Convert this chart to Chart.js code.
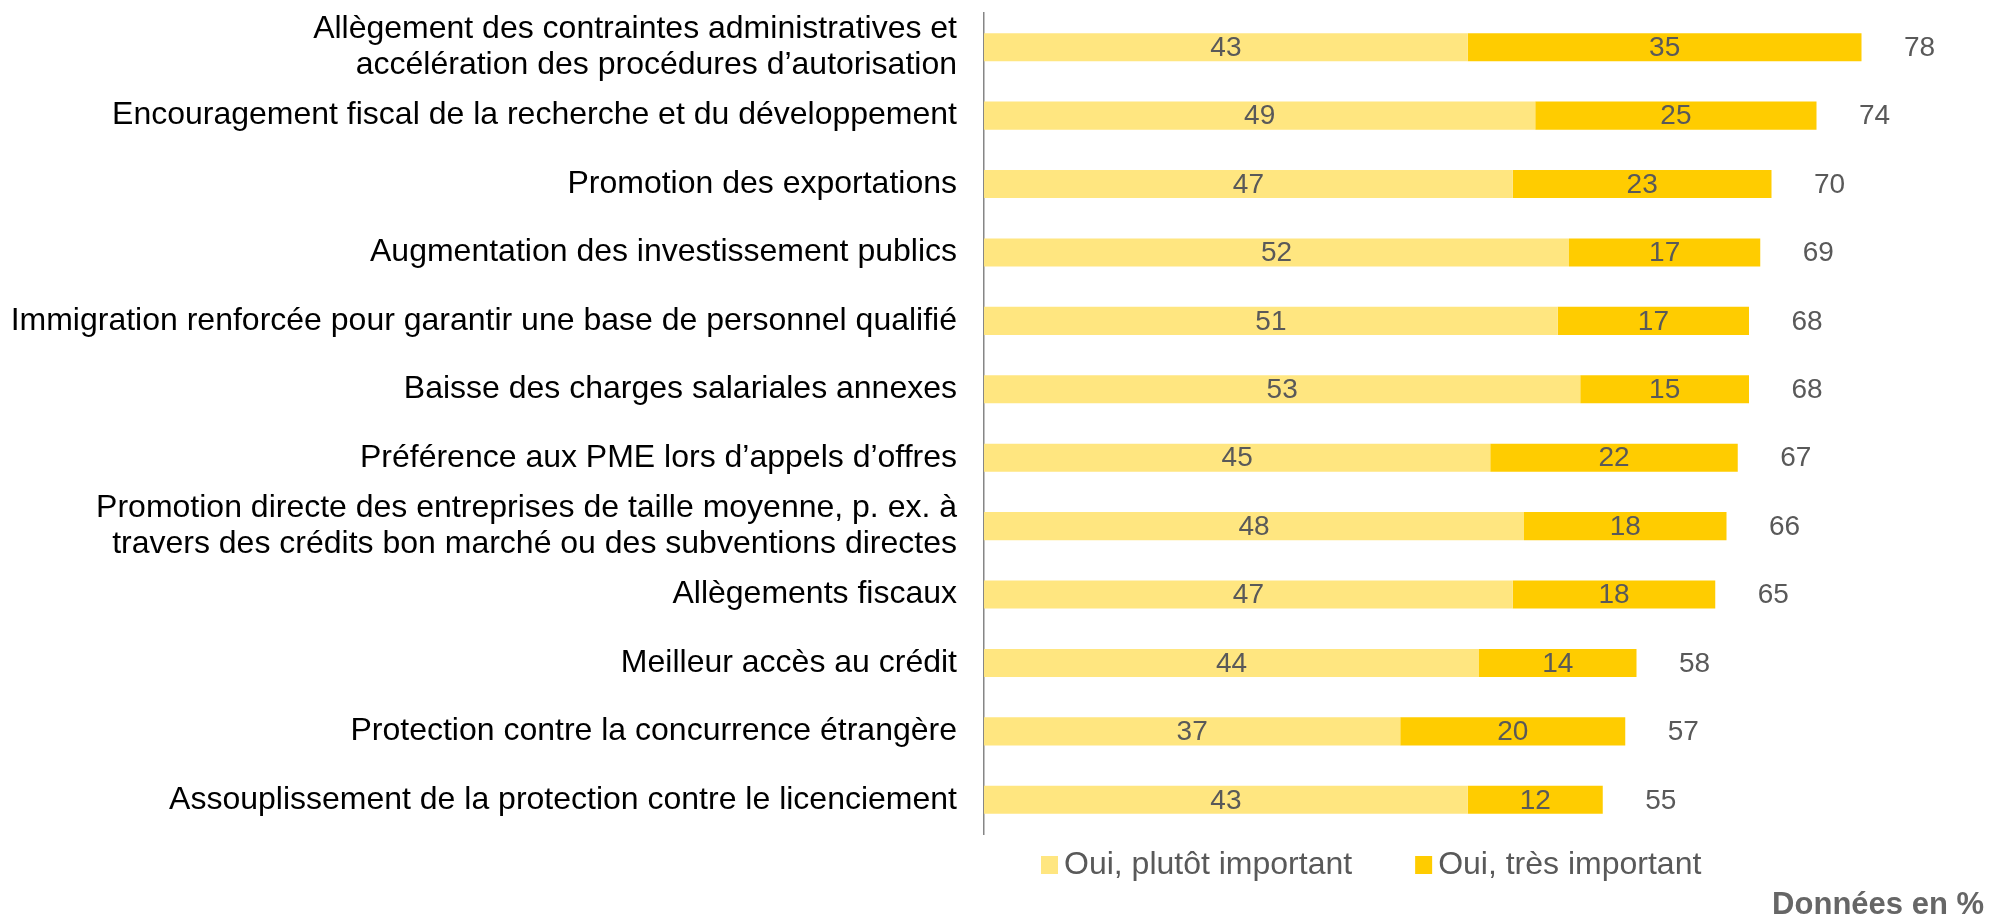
<!DOCTYPE html>
<html>
<head>
<meta charset="utf-8">
<script src="https://cdn.jsdelivr.net/npm/chart.js@4"></script>
<style>
  html, body { margin: 0; padding: 0; background: #fff; }
  #wrap { width: 1991px; height: 923px; position: relative; }
</style>
</head>
<body>
<div id="wrap"><canvas id="myChart"></canvas></div>
<script>
// categories (two-line ones as arrays)
var categories = [
  ['Allègement des contraintes administratives et', 'accélération des procédures d\u2019autorisation'],
  'Encouragement fiscal de la recherche et du développement',
  'Promotion des exportations',
  'Augmentation des investissement publics',
  'Immigration renforcée pour garantir une base de personnel qualifié',
  'Baisse des charges salariales annexes',
  'Préférence aux PME lors d\u2019appels d\u2019offres',
  ['Promotion directe des entreprises de taille moyenne, p. ex. à', 'travers des crédits bon marché ou des subventions directes'],
  'Allègements fiscaux',
  'Meilleur accès au crédit',
  'Protection contre la concurrence étrangère',
  'Assouplissement de la protection contre le licenciement'
];
var plutot = [43, 49, 47, 52, 51, 53, 45, 48, 47, 44, 37, 43];
var tres   = [35, 25, 23, 17, 17, 15, 22, 18, 18, 14, 20, 12];
var totals = [78, 74, 70, 69, 68, 68, 67, 66, 65, 58, 57, 55];
var seriesNames = ['Oui, plutôt important', 'Oui, très important'];
var unitNote = 'Données en %';

var FONT = '"Liberation Sans", Arial, sans-serif';
var GREY = '#595959';

// value labels inside bars + totals at bar end
var labelPlugin = {
  id: 'labelPlugin',
  afterDatasetsDraw: function(chart) {
    var ctx = chart.ctx;
    var xScale = chart.scales.x;
    ctx.save();
    ctx.font = '28px ' + FONT;
    ctx.fillStyle = GREY;
    ctx.textAlign = 'center';
    ctx.textBaseline = 'middle';
    chart.data.datasets.forEach(function(ds, di) {
      var meta = chart.getDatasetMeta(di);
      meta.data.forEach(function(bar, i) {
        ctx.fillText(ds.data[i], (bar.x + bar.base) / 2, bar.y + 1);
      });
    });
    var meta0 = chart.getDatasetMeta(0);
    totals.forEach(function(t, i) {
      var end = xScale.getPixelForValue(plutot[i] + tres[i]);
      ctx.fillText(t, end + 58, meta0.data[i].y + 1);
    });
    ctx.restore();
  },
  afterDraw: function(chart) {
    var ctx = chart.ctx;
    ctx.save();
    // legend
    ctx.font = '32px ' + FONT;
    ctx.textBaseline = 'middle';
    ctx.textAlign = 'left';
    var x = 1041, y = 865;
    chart.data.datasets.forEach(function(ds) {
      ctx.fillStyle = ds.backgroundColor;
      ctx.fillRect(x, y - 9, 17, 18);
      ctx.fillStyle = GREY;
      ctx.fillText(ds.label, x + 23, y);
      x += 23 + ctx.measureText(ds.label).width + 63;
    });
    // unit note
    ctx.font = 'bold 31px ' + FONT;
    ctx.fillStyle = '#666666';
    ctx.textAlign = 'right';
    ctx.fillText(unitNote, 1984, 905);
    ctx.restore();
  }
};

var ctx1 = document.getElementById('myChart').getContext('2d');
var chart1 = new Chart(ctx1, {
  type: 'bar',
  data: {
    labels: categories,
    datasets: [{
      label: seriesNames[0],
      data: plutot,
      backgroundColor: '#FFE680',
      categoryPercentage: 1,
      barPercentage: 0.41
    }, {
      label: seriesNames[1],
      data: tres,
      backgroundColor: '#FFCC00',
      categoryPercentage: 1,
      barPercentage: 0.41
    }]
  },
  options: {
    indexAxis: 'y',
    responsive: true,
    maintainAspectRatio: false,
    animation: false,
    layout: { padding: { top: 13, right: 17, bottom: 89, left: 0 } },
    plugins: {
      legend: { display: false },
      tooltip: { enabled: false }
    },
    scales: {
      x: {
        stacked: true,
        display: false,
        min: 0,
        max: 88
      },
      y: {
        stacked: true,
        grid: { display: false, drawTicks: false },
        border: { display: true, color: '#868686', width: 1.5 },
        ticks: {
          autoSkip: false,
          padding: 27,
          color: '#000000',
          font: { family: FONT, size: 32, lineHeight: 1.15 }
        },
        afterFit: function(scale) {
          scale.width = 984;
          scale.paddingTop = 0;
          scale.paddingBottom = 0;
        }
      }
    }
  },
  plugins: [labelPlugin]
});
</script>
</body>
</html>
